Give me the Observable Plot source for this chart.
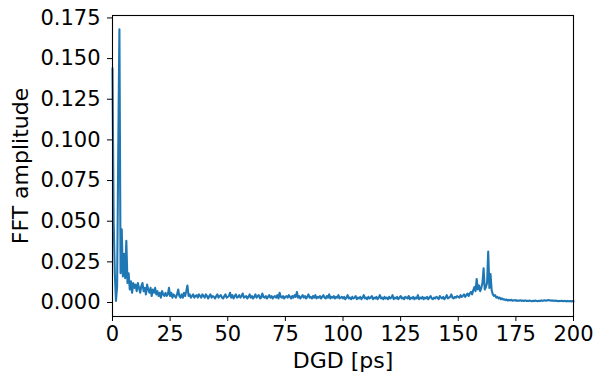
<!DOCTYPE html>
<html>
<head>
<meta charset="utf-8">
<script src="https://cdn.jsdelivr.net/npm/d3@7"></script>
<script src="https://cdn.jsdelivr.net/npm/@observablehq/plot@0.6"></script>
<style>
  html, body { margin: 0; padding: 0; background: #fff; }
</style>
</head>
<body>
<div id="chart"></div>
<script>
// DGD sampling step (ps) of the FFT bins, starting at 0
const dgdStep = 0.5;

// FFT amplitude per bin, 0 ps ... 200 ps
const fftAmplitude = [
  // 0 - 9.5
  0.144, 0.050, 0.018, 0.001, 0.010, 0.095, 0.168, 0.018, 0.045, 0.016,
  0.030, 0.015, 0.038, 0.012, 0.018, 0.008, 0.013, 0.006, 0.012, 0.009,
  // 10 - 19.5
  0.011, 0.007, 0.012, 0.009, 0.006, 0.010, 0.012, 0.007, 0.009, 0.005,
  0.011, 0.008, 0.006, 0.009, 0.004, 0.008, 0.006, 0.009, 0.005, 0.007,
  // 20 - 29.5
  0.004, 0.006, 0.003, 0.007, 0.005, 0.004, 0.006, 0.004, 0.005, 0.009,
  0.004, 0.006, 0.003, 0.005, 0.004, 0.003, 0.005, 0.008, 0.004, 0.003,
  // 30 - 39.5
  0.005, 0.003, 0.006, 0.004, 0.007, 0.0105, 0.004, 0.005, 0.003, 0.004,
  0.005, 0.003, 0.004, 0.0045, 0.003, 0.005, 0.004, 0.003, 0.005, 0.004,
  // 40 - 49.5
  0.003, 0.005, 0.004, 0.0025, 0.004, 0.005, 0.003, 0.004, 0.0035, 0.0025,
  0.004, 0.005, 0.003, 0.004, 0.0045, 0.003, 0.0025, 0.004, 0.005, 0.003,
  // 50 - 59.5
  0.0035, 0.004, 0.006, 0.003, 0.0045, 0.0025, 0.004, 0.005, 0.003, 0.0035,
  0.0045, 0.003, 0.004, 0.0055, 0.003, 0.0035, 0.004, 0.0025, 0.0035, 0.005,
  // 60 - 69.5
  0.003, 0.004, 0.0025, 0.0035, 0.005, 0.003, 0.004, 0.0045, 0.0025, 0.003,
  0.0055, 0.0035, 0.003, 0.004, 0.0025, 0.0035, 0.0045, 0.003, 0.004, 0.0025,
  // 70 - 79.5
  0.0035, 0.004, 0.003, 0.0045, 0.0025, 0.006, 0.0035, 0.003, 0.004, 0.0025,
  0.0035, 0.004, 0.003, 0.0045, 0.0035, 0.0025, 0.004, 0.003, 0.0045, 0.0035,
  // 80 - 89.5
  0.0065, 0.003, 0.004, 0.0025, 0.0035, 0.0045, 0.003, 0.004, 0.0025, 0.0035,
  0.005, 0.003, 0.0035, 0.0025, 0.004, 0.003, 0.0045, 0.0025, 0.0035, 0.003,
  // 90 - 99.5
  0.004, 0.0025, 0.0035, 0.0045, 0.003, 0.0025, 0.004, 0.003, 0.005, 0.0025,
  0.0035, 0.003, 0.004, 0.0025, 0.0035, 0.003, 0.0045, 0.0025, 0.003, 0.0035,
  // 100 - 109.5
  0.0025, 0.0035, 0.002, 0.003, 0.0045, 0.0025, 0.003, 0.002, 0.0035, 0.0025,
  0.003, 0.004, 0.002, 0.003, 0.0025, 0.0035, 0.002, 0.003, 0.0045, 0.0025,
  // 110 - 119.5
  0.003, 0.002, 0.0035, 0.0025, 0.003, 0.004, 0.002, 0.003, 0.0025, 0.0035,
  0.002, 0.003, 0.0045, 0.0025, 0.003, 0.002, 0.0035, 0.0025, 0.003, 0.002,
  // 120 - 129.5
  0.0035, 0.0025, 0.003, 0.0045, 0.002, 0.003, 0.0025, 0.0035, 0.002, 0.003,
  0.004, 0.0025, 0.003, 0.002, 0.0035, 0.003, 0.0025, 0.004, 0.002, 0.003,
  // 130 - 139.5
  0.0025, 0.0035, 0.002, 0.003, 0.0025, 0.0045, 0.002, 0.003, 0.0025, 0.0035,
  0.002, 0.003, 0.0025, 0.0035, 0.002, 0.003, 0.004, 0.0025, 0.002, 0.003,
  // 140 - 149.5
  0.0025, 0.0035, 0.003, 0.002, 0.004, 0.003, 0.0025, 0.0035, 0.002, 0.003,
  0.0045, 0.0025, 0.003, 0.0035, 0.005, 0.003, 0.0025, 0.0035, 0.003, 0.004,
  // 150 - 159.5
  0.0035, 0.003, 0.0045, 0.0035, 0.004, 0.005, 0.0035, 0.0045, 0.0055, 0.004,
  0.0055, 0.0065, 0.005, 0.0075, 0.0095, 0.007, 0.0145, 0.008, 0.0105, 0.007,
  // 160 - 169.5
  0.009, 0.012, 0.021, 0.008, 0.0095, 0.012, 0.0314, 0.009, 0.0175, 0.0075,
  0.005, 0.004, 0.0045, 0.003, 0.0035, 0.0025, 0.003, 0.002, 0.0025, 0.0018,
  // 170 - 179.5
  0.002, 0.0015, 0.0018, 0.0012, 0.0016, 0.0013, 0.0017, 0.0011, 0.0014, 0.0012,
  0.0015, 0.001, 0.0013, 0.0011, 0.0014, 0.001, 0.0012, 0.0009, 0.0013, 0.001,
  // 180 - 189.5
  0.0011, 0.0009, 0.0012, 0.001, 0.0008, 0.0011, 0.0009, 0.0012, 0.001, 0.0008,
  0.0011, 0.0009, 0.0013, 0.001, 0.0012, 0.0014, 0.0011, 0.0013, 0.0015, 0.0012,
  // 190 - 200
  0.0014, 0.0011, 0.0013, 0.001, 0.0012, 0.0009, 0.0011, 0.0008, 0.001, 0.0009,
  0.0011, 0.0008, 0.001, 0.0009, 0.0007, 0.001, 0.0008, 0.0009, 0.0007, 0.0009,
  0.0006
];

const xTicks = [0, 25, 50, 75, 100, 125, 150, 175, 200];
const yTicks = [0, 0.025, 0.05, 0.075, 0.1, 0.125, 0.15, 0.175];
const xLabel = "DGD [ps]";
const yLabel = "FFT amplitude";

const data = fftAmplitude.map((a, i) => ({dgd: i * dgdStep, amp: a}));

const chart = Plot.plot({
  width: 595,
  height: 377,
  marginLeft: 112,
  marginRight: 22,
  marginTop: 15,
  marginBottom: 61,
  style: {fontFamily: "DejaVu Sans", fontSize: "21px", color: "#000", background: "#fff"},
  x: {domain: [0, 200]},
  y: {domain: [-0.0086, 0.1765]},
  marks: [
    Plot.line(data, {x: "dgd", y: "amp", stroke: "#1f77b4", strokeWidth: 2.1, strokeLinejoin: "round"}),
    Plot.frame({stroke: "#000", strokeWidth: 1.1}),
    Plot.axisX({ticks: xTicks, tickSize: 5, tickPadding: 5, tickFormat: d3.format("d"), label: null, fontSize: 21}),
    Plot.axisY({ticks: yTicks, tickSize: 5, tickPadding: 7, tickFormat: d3.format(".3f"), label: null, fontSize: 21}),
    Plot.text([xLabel], {frameAnchor: "bottom", text: d => d, dy: 51, fontSize: 22}),
    Plot.text([yLabel], {frameAnchor: "left", textAnchor: "middle", text: d => d, rotate: -90, dx: -92, fontSize: 22})
  ]
});
document.getElementById("chart").appendChild(chart);
</script>
</body>
</html>
